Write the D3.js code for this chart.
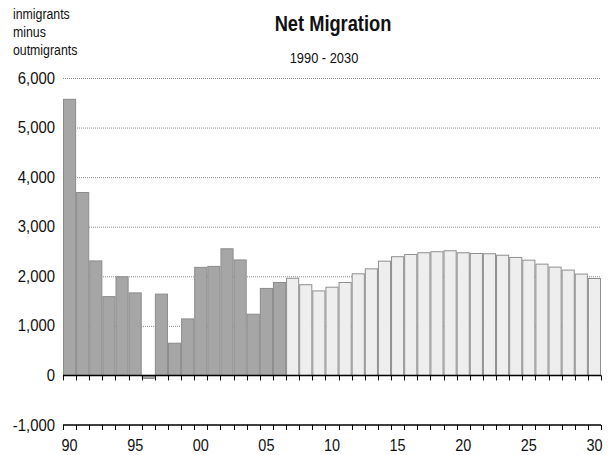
<!DOCTYPE html>
<html>
<head>
<meta charset="utf-8">
<script src="https://cdn.jsdelivr.net/npm/d3@7"></script>
<style>
  body { margin: 0; background: #fff; }
  text { font-family: "Liberation Sans", Arial, sans-serif; fill: #111; }
</style>
</head>
<body>
<div class="chart"></div>
<script>

var years = d3.range(1990, 2031);

// 1990-2006 estimates, 2007-2030 projections
var actual = [5570, 3690, 2310, 1590, 1990, 1665, -60, 1640, 650, 1140,
    2180, 2200, 2555, 2330, 1235, 1755, 1875];

var projected = [1960, 1830, 1705, 1780, 1875, 2050, 2150, 2305, 2395, 2440,
    2475, 2495, 2515, 2475, 2460, 2455, 2425, 2380, 2325, 2245, 2185, 2125,
    2045, 1955];

var yTicks = [-1000, 0, 1000, 2000, 3000, 4000, 5000, 6000];
var gridTicks = [1000, 2000, 3000, 4000, 5000, 6000];
var xLabels = ["90", "95", "00", "05", "10", "15", "20", "25", "30"];

var data = years.map(function(y, i) {
    var isActual = i < actual.length;
    return {
        year: y,
        value: isActual ? actual[i] : projected[i - actual.length],
        actual: isActual
    };
});

var margin = {top: 78, right: 9, bottom: 30, left: 63};
var width = 610 - margin.left - margin.right;
var height = 455 - margin.top - margin.bottom;

var svg = d3.select(".chart")
    .append("svg")
    .attr("width", 610)
    .attr("height", 455);

// condensed look: squeeze text horizontally
function label(parent, x, y, str, size, sx, anchor, weight) {
    return parent.append("g")
        .attr("transform", "translate(" + x + "," + y + ") scale(" + sx + ",1)")
        .append("text")
        .attr("text-anchor", anchor || "start")
        .style("font-size", size + "px")
        .style("font-weight", weight || "normal")
        .text(str);
}

label(svg, 333, 31, "Net Migration", 21.5, 0.85, "middle", "bold");
label(svg, 324, 62.5, "1990 - 2030", 15.5, 0.83, "middle");

["inmigrants", "minus", "outmigrants"].forEach(function(t, i) {
    label(svg, 13, 18.5 + i * 18.3, t, 14.5, 0.85);
});

var g = svg.append("g")
    .attr("transform", "translate(" + margin.left + "," + margin.top + ")");

var xScale = d3.scaleBand()
    .domain(years)
    .range([0, width])
    .padding(0);

var yScale = d3.scaleLinear()
    .domain([-1000, 6000])
    .range([height, 0]);

// grid
g.selectAll(".grid")
    .data(gridTicks)
    .enter().append("line")
    .attr("class", "grid")
    .attr("x1", 0)
    .attr("x2", width)
    .attr("y1", function(d) { return yScale(d) + 0.5; })
    .attr("y2", function(d) { return yScale(d) + 0.5; })
    .attr("stroke", "#8a8a8a")
    .attr("stroke-width", 1)
    .attr("stroke-dasharray", "1,1");

// bars
g.selectAll(".bar")
    .data(data)
    .enter().append("rect")
    .attr("class", "bar")
    .attr("x", function(d) { return xScale(d.year) + 0.5; })
    .attr("width", xScale.bandwidth() - 1)
    .attr("y", function(d) { return yScale(Math.max(0, d.value)); })
    .attr("height", function(d) { return Math.abs(yScale(d.value) - yScale(0)); })
    .attr("fill", function(d) { return d.actual ? "#a6a6a6" : "#eeeeee"; })
    .attr("stroke", function(d) { return d.actual ? "#8c8c8c" : "#8f8f8f"; })
    .attr("stroke-width", 1);

// y labels
yTicks.forEach(function(d) {
    label(g, -8, yScale(d) + 5.5, d3.format(",")(d).replace("\u2212", "-"), 15.7, 0.95, "end");
});

// zero line and bottom line with ticks at every bar boundary
var edges = years.map(function(y) { return xScale(y); }).concat([width]);

[0, -1000].forEach(function(v) {
    var yy = yScale(v);
    g.append("line")
        .attr("x1", 0)
        .attr("x2", width)
        .attr("y1", yy)
        .attr("y2", yy)
        .attr("stroke", "#000")
        .attr("stroke-width", 1.5);
    g.selectAll(".tick" + (v < 0 ? "b" : "z"))
        .data(edges)
        .enter().append("line")
        .attr("x1", function(d) { return Math.round(d) + 0.5; })
        .attr("x2", function(d) { return Math.round(d) + 0.5; })
        .attr("y1", yy)
        .attr("y2", yy + 5)
        .attr("stroke", "#000")
        .attr("stroke-width", 1);
});

// year labels every 5 years
xLabels.forEach(function(d, i) {
    label(g, xScale(1990 + i * 5) + xScale.bandwidth() / 2, yScale(-1000) + 26, d, 17, 0.85, "middle");
});

</script>
</body>
</html>
